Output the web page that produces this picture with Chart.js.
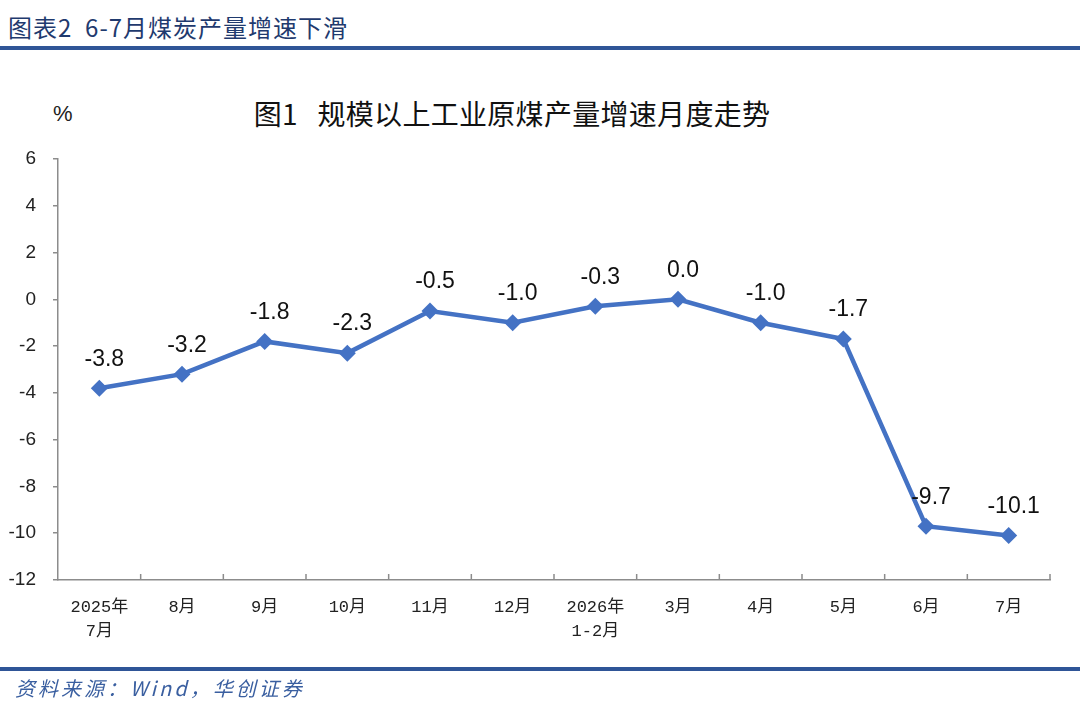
<!DOCTYPE html>
<html>
<head>
<meta charset="utf-8">
<script src="https://cdn.jsdelivr.net/npm/chart.js@4.4.1/dist/chart.umd.min.js"></script>
<style>
  html, body { margin: 0; padding: 0; background: #fff; }
  body { width: 1080px; height: 721px; position: relative; overflow: hidden; font-family: "Noto Sans CJK SC", sans-serif; }
  #head { position: absolute; left: 8px; top: 9px; font-size: 24px; color: #1f3a6e; letter-spacing: 1px; }
  .rule { position: absolute; left: 0; width: 1080px; height: 4px; background: #2f5597; }
  #foot { position: absolute; left: 15px; top: 673px; font-size: 20px; color: #3a5fa0; font-style: italic; letter-spacing: 3px; }
  #title { position: absolute; left: 0; width: 1024px; top: 93px; text-align: center; font-size: 28px; color: #111; font-weight: 400; letter-spacing: 0.3px; }
  #unit { position: absolute; left: 53px; top: 101px; font-size: 22px; color: #222; font-family: Arial, "Liberation Sans", sans-serif; }
  #wrap { position: absolute; left: 0; top: 0; width: 1080px; height: 721px; }
</style>
</head>
<body>
<div id="head">图表2&nbsp; 6-7月煤炭产量增速下滑</div>
<div class="rule" style="top:46px"></div>
<div id="title">图1&nbsp;&nbsp; 规模以上工业原煤产量增速月度走势</div>
<div id="unit">%</div>
<div id="wrap"><canvas id="chart1"></canvas></div>
<div class="rule" style="top:667px"></div>
<div id="foot">资料来源：Wind，华创证券</div>
<script>
const months = [["2025年", "7月"], "8月", "9月", "10月", "11月", "12月", ["2026年", "1-2月"], "3月", "4月", "5月", "6月", "7月"];
const growth = [-3.8, -3.2, -1.8, -2.3, -0.5, -1.0, -0.3, 0.0, -1.0, -1.7, -9.7, -10.1];
const yTicks = [6, 4, 2, 0, -2, -4, -6, -8, -10, -12];

const pointLabels = {
  id: "pointLabels",
  afterDatasetsDraw(chart) {
    const ctx = chart.ctx;
    const meta = chart.getDatasetMeta(0);
    ctx.save();
    ctx.font = "23px Arial, 'Liberation Sans', sans-serif";
    ctx.fillStyle = "#111";
    ctx.textAlign = "center";
    ctx.textBaseline = "middle";
    meta.data.forEach((pt, i) => {
      ctx.fillText(growth[i].toFixed(1), pt.x + 5, pt.y - 29);
    });
    ctx.restore();
  }
};

const innerTicks = {
  id: "innerTicks",
  afterDraw(chart) {
    const x = chart.scales.x;
    const ctx = chart.ctx;
    const bottom = chart.chartArea.bottom;
    ctx.save();
    ctx.strokeStyle = "#8c8c8c";
    ctx.lineWidth = 1.5;
    ctx.beginPath();
    for (let i = 0; i < months.length; i++) {
      const px = i < months.length - 1 ? (x.getPixelForValue(i) + x.getPixelForValue(i + 1)) / 2 : chart.chartArea.right;
      ctx.moveTo(px, bottom);
      ctx.lineTo(px, bottom - 6);
    }
    ctx.stroke();
    ctx.restore();
  }
};

const canvas = document.getElementById("chart1");
new Chart(canvas, {
  type: "line",
  data: {
    labels: months,
    datasets: [{
      data: growth,
      borderColor: "#4472c4",
      backgroundColor: "#4472c4",
      borderWidth: 4.5,
      pointStyle: "rectRot",
      pointRadius: 8.5,
      pointHoverRadius: 8.5,
      pointBorderWidth: 0,
      tension: 0
    }]
  },
  options: {
    responsive: true,
    maintainAspectRatio: false,
    animation: false,
    layout: { padding: { top: 159, right: 30, left: 0, bottom: 0 } },
    plugins: { legend: { display: false }, tooltip: { enabled: false } },
    scales: {
      x: {
        offset: true,
        afterFit: s => { s.height = 141; },
        grid: { display: false },
        border: { color: "#8c8c8c", width: 1.5 },
        ticks: {
          padding: 7,
          maxRotation: 0,
          autoSkip: false,
          color: "#222",
          font: { size: 17, family: "'Liberation Mono', 'Noto Sans CJK SC', monospace", lineHeight: 1.45 }
        }
      },
      y: {
        min: -12,
        max: 6,
        afterFit: s => { s.width = 58; },
        afterBuildTicks: s => { s.ticks = yTicks.map(v => ({ value: v })); },
        grid: { drawOnChartArea: false, drawTicks: true, tickLength: 5, color: "#8c8c8c", lineWidth: 1.5 },
        border: { color: "#8c8c8c", width: 1.5 },
        ticks: {
          padding: 17,
          color: "#222",
          font: { size: 19, family: "Arial, 'Liberation Sans', sans-serif" }
        }
      }
    }
  },
  plugins: [pointLabels, innerTicks]
});
</script>
</body>
</html>
